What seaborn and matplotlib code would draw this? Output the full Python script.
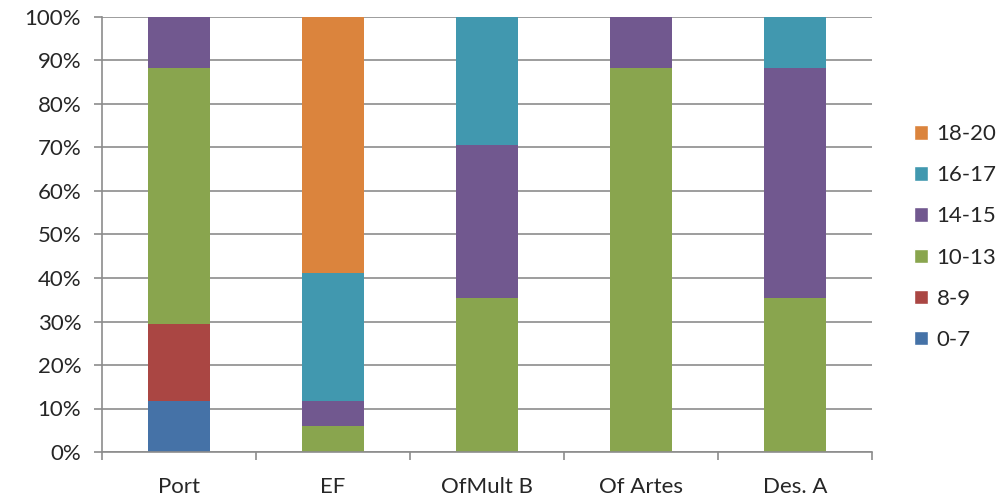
"""Stacked 100% bars of grade bands per subject."""

import matplotlib

matplotlib.use("Agg")
import matplotlib.pyplot as plt
import pandas as pd
import seaborn as sns
from matplotlib.patches import Patch
from matplotlib.ticker import PercentFormatter

sns.set_style("white")
plt.rcParams["font.family"] = ["Lato", "DejaVu Sans"]

SUBJECTS = ["Port", "EF", "OfMult B", "Of Artes", "Des. A"]
BANDS = ["0-7", "8-9", "10-13", "14-15", "16-17", "18-20"]
COLOURS = ["#4572A7", "#AA4643", "#89A54E", "#71588F", "#4198AF", "#DB843D"]

# percentage of students in each band, per subject
band_0_7 = [11.8, 0, 0, 0, 0]
band_8_9 = [17.6, 0, 0, 0, 0]
band_10_13 = [58.8, 5.9, 35.3, 88.2, 35.3]
band_14_15 = [11.8, 5.9, 35.3, 11.8, 52.9]
band_16_17 = [0, 29.4, 29.4, 0, 11.8]
band_18_20 = [0, 58.8, 0, 0, 0]

df = pd.DataFrame(
    {
        "subject": SUBJECTS,
        "0-7": band_0_7,
        "8-9": band_8_9,
        "10-13": band_10_13,
        "14-15": band_14_15,
        "16-17": band_16_17,
        "18-20": band_18_20,
    }
)

FS = 16

fig = plt.figure(figsize=(9.99, 4.99), dpi=100)
ax = fig.add_axes([102 / 999, 47 / 499, 770 / 999, 435 / 499])

bottom = pd.Series(0.0, index=df.index)
for band, colour in zip(BANDS, COLOURS):
    sns.barplot(
        data=df, x="subject", y=band, order=SUBJECTS, color=colour,
        bottom=bottom.values, width=0.4, saturation=1, ax=ax, linewidth=0,
    )
    bottom += df[band]

ax.set_ylim(0, 100)
ax.set_xlim(-0.5, len(SUBJECTS) - 0.5)
ax.set_yticks(range(0, 101, 10))
ax.yaxis.set_major_formatter(PercentFormatter(decimals=0))
ax.set_xlabel("")
ax.set_ylabel("")
ax.grid(axis="y", color="#8c8c8c", linewidth=1.2)
ax.set_axisbelow(True)

for side in ["top", "right"]:
    ax.spines[side].set_visible(False)
for side in ["left", "bottom"]:
    ax.spines[side].set_color("#8c8c8c")
    ax.spines[side].set_linewidth(1.2)

# category ticks sit between the bars, labels centred under them
ax.set_xticks([i - 0.5 for i in range(len(SUBJECTS) + 1)], minor=False)
ax.set_xticklabels([])
ax.set_xticks(range(len(SUBJECTS)), minor=True)
ax.set_xticklabels(SUBJECTS, minor=True, fontsize=FS)
ax.tick_params(axis="x", which="major", length=6, color="#8c8c8c", width=1.2, direction="out", bottom=True)
ax.tick_params(axis="x", which="minor", length=0, pad=18)
ax.tick_params(axis="y", length=6, color="#8c8c8c", width=1.2, direction="out", left=True, labelsize=FS, pad=9)

handles = [Patch(facecolor=c, label=b) for b, c in zip(BANDS, COLOURS)][::-1]
fig.legend(
    handles=handles, loc="center left", bbox_to_anchor=(914 / 999, 0.525),
    frameon=False, fontsize=FS, handlelength=0.62, handleheight=0.62,
    handletextpad=0.4, labelspacing=0.95, borderpad=0, borderaxespad=0,
)

fig.savefig("out.png", dpi=100)
